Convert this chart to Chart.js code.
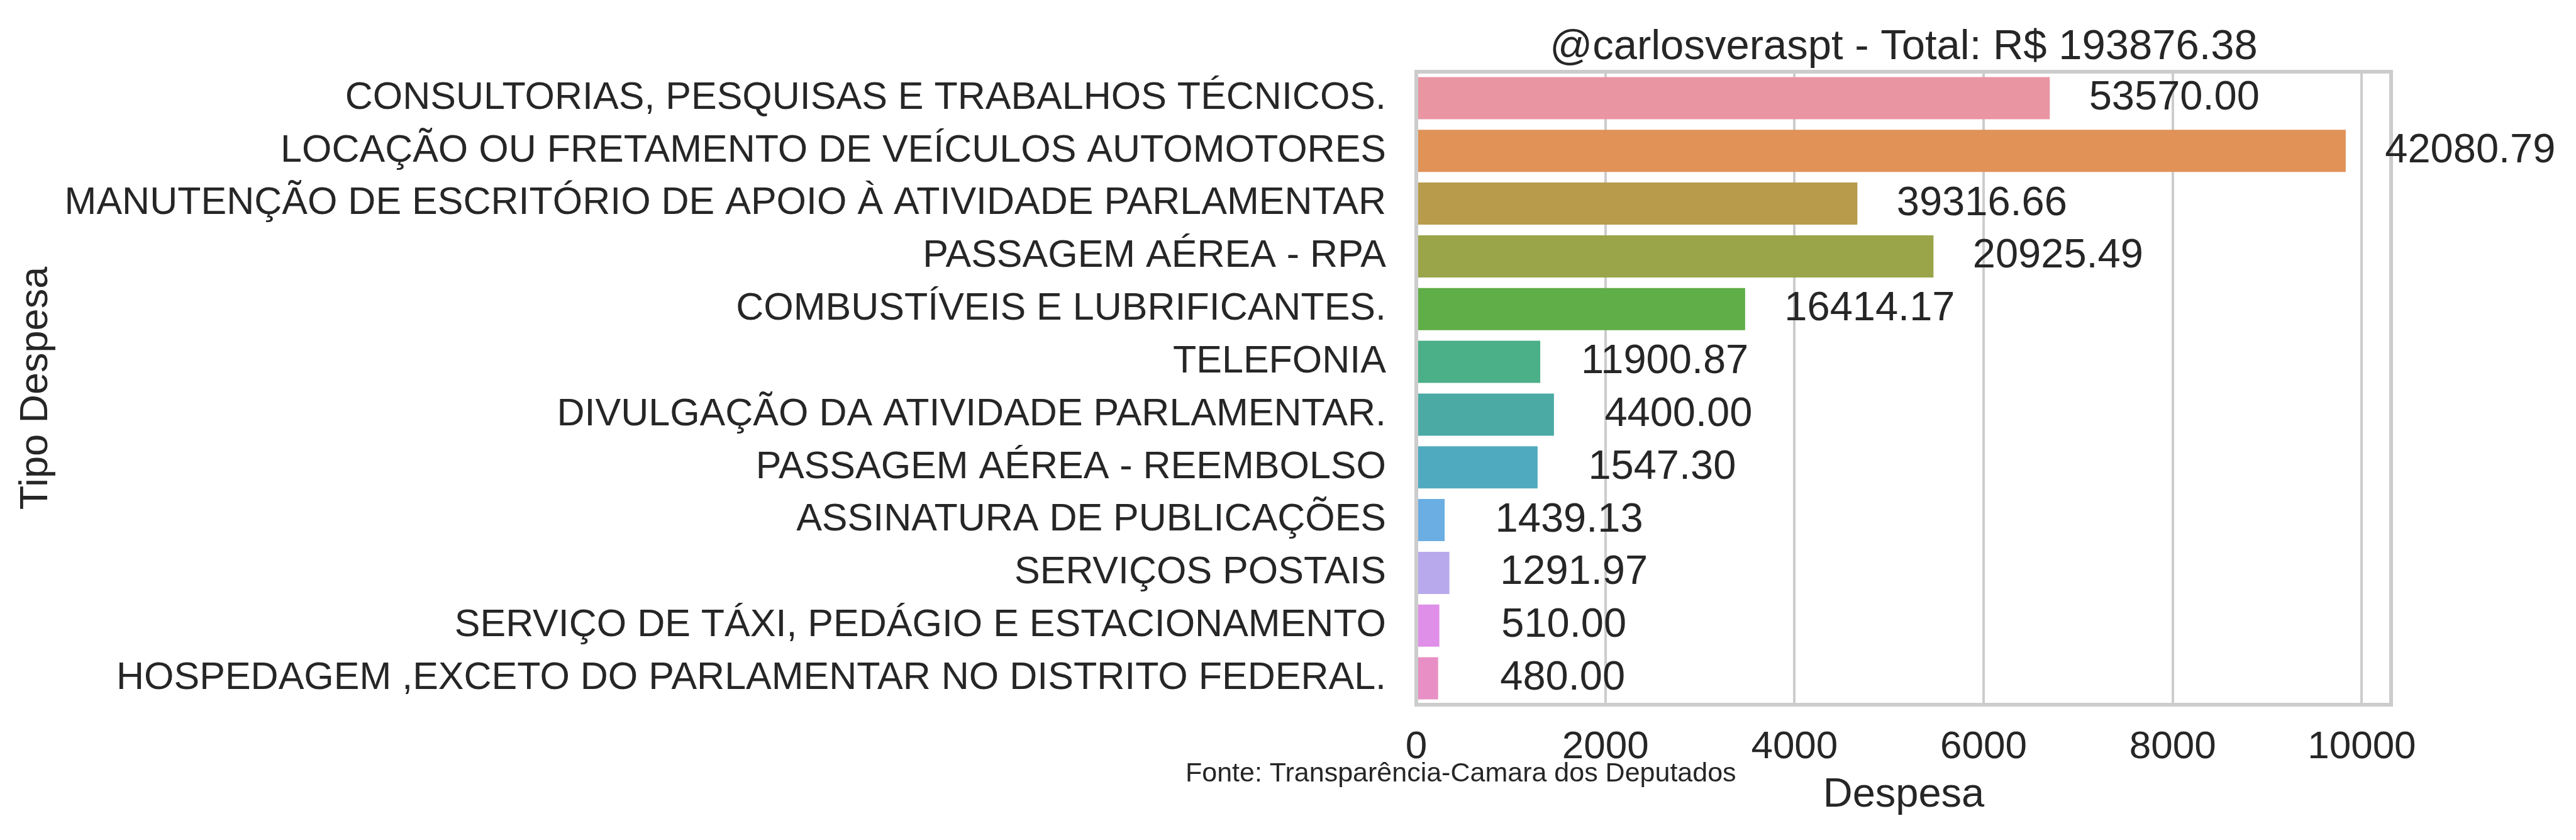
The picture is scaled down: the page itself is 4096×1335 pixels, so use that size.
<!DOCTYPE html>
<html lang="pt">
<head>
<meta charset="UTF-8" />
<title>Despesas por tipo</title>
<script src="https://cdn.jsdelivr.net/npm/chart.js"></script>
<style>
    body {
        margin: 0;
        background: #ffffff;
    }

    #wrap {
        width: 4096px;
        height: 1335px;
    }
</style>
</head>
<body>
<div id="wrap"><canvas id="despesaChart" width="4096" height="1335"></canvas></div>
<script>
    const tipos = [
        "CONSULTORIAS, PESQUISAS E TRABALHOS TÉCNICOS.",
        "LOCAÇÃO OU FRETAMENTO DE VEÍCULOS AUTOMOTORES",
        "MANUTENÇÃO DE ESCRITÓRIO DE APOIO À ATIVIDADE PARLAMENTAR",
        "PASSAGEM AÉREA - RPA",
        "COMBUSTÍVEIS E LUBRIFICANTES.",
        "TELEFONIA",
        "DIVULGAÇÃO DA ATIVIDADE PARLAMENTAR.",
        "PASSAGEM AÉREA - REEMBOLSO",
        "ASSINATURA DE PUBLICAÇÕES",
        "SERVIÇOS POSTAIS",
        "SERVIÇO DE TÁXI, PEDÁGIO E ESTACIONAMENTO",
        "HOSPEDAGEM ,EXCETO DO PARLAMENTAR NO DISTRITO FEDERAL."
    ];
    // comprimento das barras
    const despesa = [6700, 9830, 4665, 5470, 3478, 1311, 1456, 1283, 300, 350, 244, 231];
    // valores escritos ao lado das barras
    const totais = [53570.00, 42080.79, 39316.66, 20925.49, 16414.17, 11900.87, 4400.00, 1547.30, 1439.13, 1291.97, 510.00, 480.00];
    const cores = [
        "#e995a2", "#e09257", "#b89b4b", "#9aa448", "#60ae47", "#4baf88",
        "#4baaa4", "#50aabf", "#6aaee3", "#b8a9ec", "#e08fe9", "#e890c5"
    ];
    const xTicks = [0, 2000, 4000, 6000, 8000, 10000];
    const xMax = 10310;

    const total = totais.reduce((a, b) => a + b, 0);
    const FONT = "'Liberation Sans', Arial, sans-serif";
    const TXT = "#262626";
    const CINZA = "#cccccc";

    Chart.defaults.font.family = FONT;
    Chart.defaults.color = TXT;

    // moldura (spines) em volta da area do grafico
    const moldura = {
        id: "moldura",
        afterDatasetsDraw(chart) {
            const { ctx, chartArea: a } = chart;
            ctx.save();
            ctx.strokeStyle = CINZA;
            ctx.lineWidth = 6;
            ctx.strokeRect(a.left, a.top, a.right - a.left, a.bottom - a.top);
            ctx.restore();
        }
    };

    // valores ao lado de cada barra
    const rotulos = {
        id: "rotulos",
        afterDatasetsDraw(chart) {
            const ctx = chart.ctx;
            const meta = chart.getDatasetMeta(0);
            ctx.save();
            ctx.font = "65px " + FONT;
            ctx.fillStyle = TXT;
            ctx.textAlign = "center";
            ctx.textBaseline = "middle";
            meta.data.forEach((bar, i) => {
                ctx.fillText(totais[i].toFixed(2), bar.x + 198, bar.y);
            });
            ctx.restore();
        }
    };

    // titulo centrado na area do grafico e a fonte dos dados
    const textos = {
        id: "textos",
        afterDraw(chart) {
            const { ctx, chartArea: a } = chart;
            ctx.save();
            ctx.fillStyle = TXT;
            ctx.textBaseline = "alphabetic";
            ctx.textAlign = "center";
            ctx.font = "67px " + FONT;
            ctx.fillText("@carlosveraspt - Total: R$ " + total.toFixed(2), (a.left + a.right) / 2, 94);
            ctx.textBaseline = "middle";
            ctx.textAlign = "left";
            ctx.font = "43px " + FONT;
            ctx.fillText("Fonte: Transparência-Camara dos Deputados", 1885, 1230);
            ctx.restore();
        }
    };

    new Chart(document.getElementById("despesaChart"), {
        type: "bar",
        data: {
            labels: tipos,
            datasets: [{
                data: despesa,
                backgroundColor: cores,
                borderWidth: 0,
                categoryPercentage: 1,
                barPercentage: 0.8
            }]
        },
        options: {
            indexAxis: "y",
            responsive: false,
            animation: false,
            devicePixelRatio: 1,
            layout: { padding: { left: 0, right: 294, top: 114, bottom: 0 } },
            scales: {
                x: {
                    min: 0,
                    max: xMax,
                    afterBuildTicks: s => { s.ticks = xTicks.map(v => ({ value: v })); },
                    afterFit: s => { s.height = 215; },
                    grid: { color: CINZA, lineWidth: 4, drawTicks: false },
                    border: { display: false },
                    ticks: { font: { size: 62 }, padding: 31, maxRotation: 0, color: TXT, callback: v => String(v) },
                    title: { display: true, text: "Despesa", font: { size: 65 }, padding: { top: 0, bottom: 32 }, color: TXT }
                },
                y: {
                    afterFit: s => { s.width = 2252; },
                    grid: { display: false, drawTicks: false },
                    border: { display: false },
                    ticks: { font: { size: 61 }, padding: 48, autoSkip: false, color: TXT },
                    title: { display: true, text: "Tipo Despesa", font: { size: 63 }, padding: { top: 20, bottom: 0 }, color: TXT }
                }
            },
            plugins: {
                legend: { display: false },
                tooltip: { enabled: false },
                title: { display: false }
            }
        },
        plugins: [moldura, rotulos, textos]
    });
</script>
</body>
</html>
